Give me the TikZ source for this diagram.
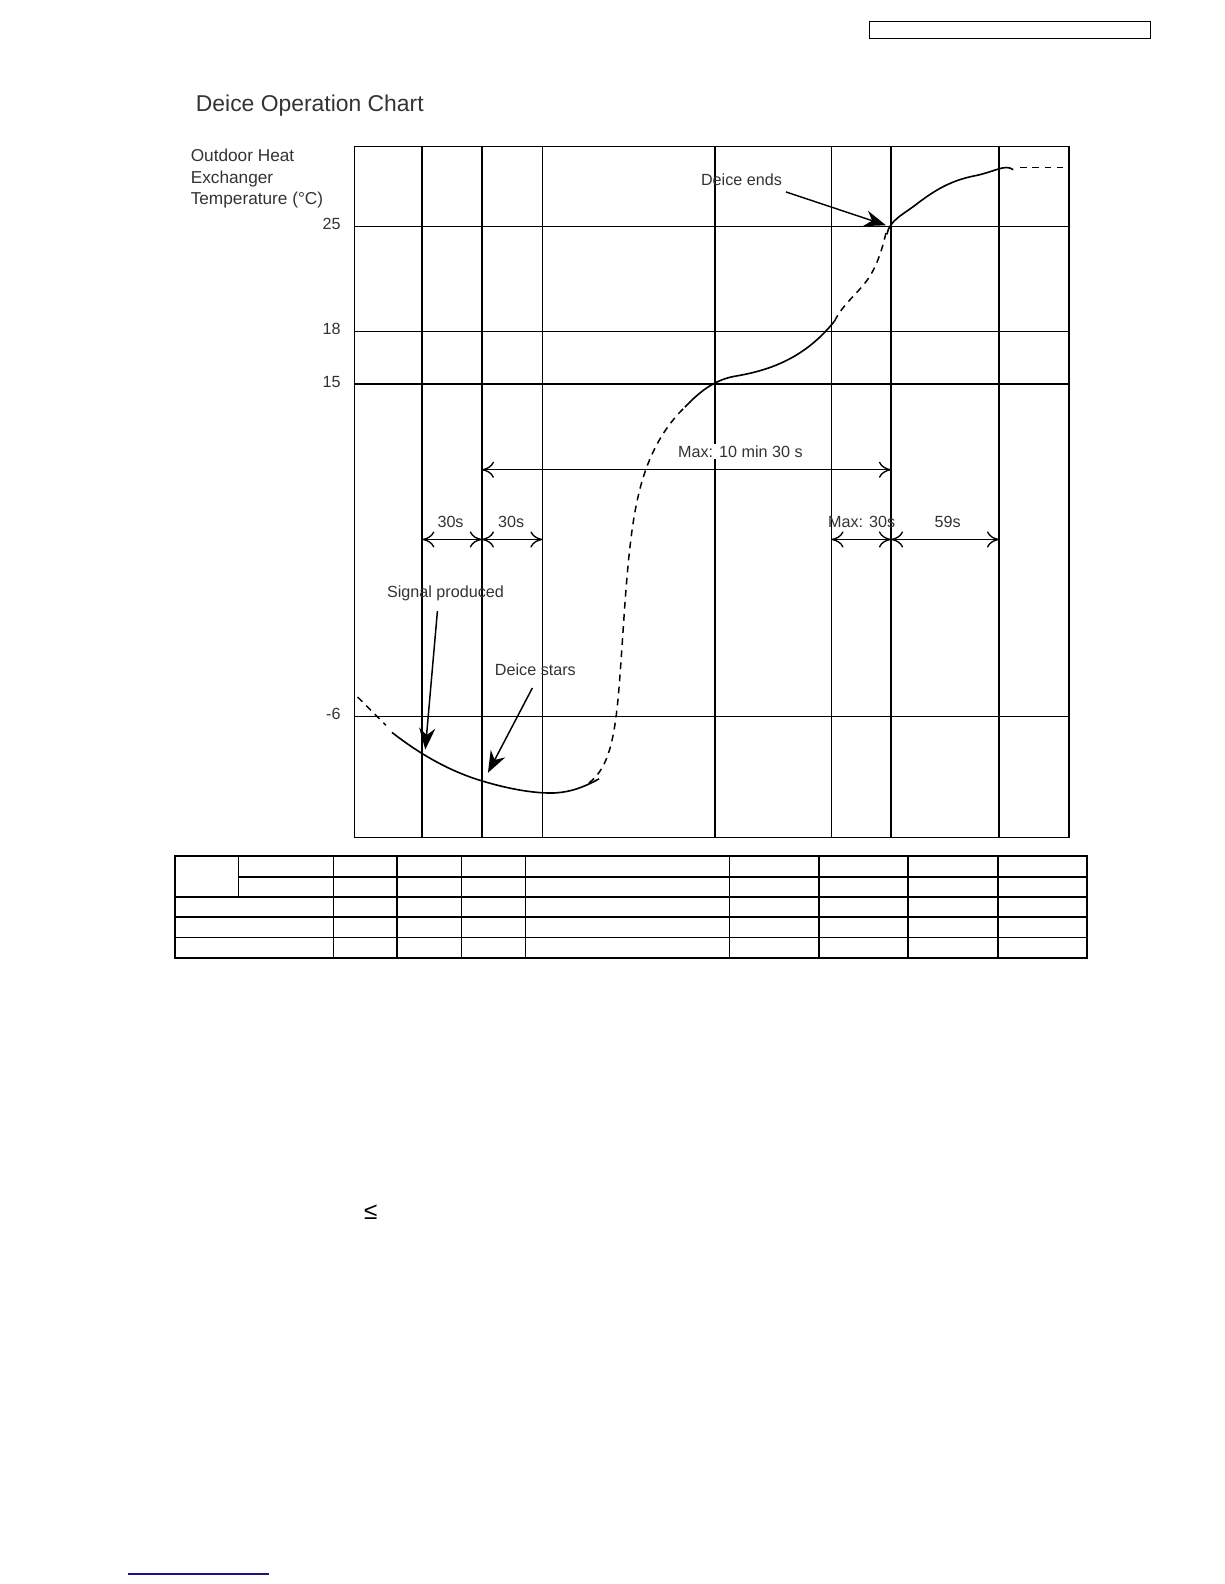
\documentclass[tikz,border=0pt]{standalone}
\usepackage{fontspec}
\setmainfont{Liberation Sans}
\usetikzlibrary{arrows.meta}
\tikzset{every picture/.style={line width=0.75pt}}
\tikzset{
	label text/.style={font=\fontsize{12}{13}\selectfont, text=black!80, inner sep=1pt},
	grid line/.style={line width=1.3pt},
	dim arrow/.style={{To[length=9pt,width=12pt]}-{To[length=9pt,width=12pt]}, line width=1pt},
	call arrow/.style={-{Stealth[length=16pt,width=12pt]}, line width=1.1pt},
	curve dash/.style={dashed, dash pattern=on 5pt off 4pt, line width=1.1pt}}

\begin{document}
\begin{tikzpicture}[x=0.75pt,y=0.75pt,yscale=-1,xscale=1]
	\useasboundingbox (0,0) rectangle (1212,1568);

	%Shape: top box
	\draw [line width=0.9pt] (861,21) rectangle (1139,38);
	% Text Node
	\node (title) [anchor=west, font=\fontsize{17}{18}\selectfont, text=black!80] at (189,105) {Deice Operation Chart};
	% Text Node
	\node (ylabel) [anchor=north west, align=left, label text, font=\fontsize{12.8}{15.8}\selectfont] at (187,146) {Outdoor Heat\\Exchanger\\Temperature (\textdegree C)};

	%Shape: chart frame and grid
	\draw [grid line] (351,145) rectangle (1058,829);
	\foreach \gx in {418,477,537,708,823,882,989} {
		\draw [grid line] (\gx,145) -- (\gx,829);}
	\foreach \gy/\gt in {224/25,328/18,380/15,709/-6} {
		\draw [line width=1pt] (351,\gy) -- (1058,\gy);
		\node [label text, anchor=east] at (339,\gy-2) {\gt};}

	% Curve
	\draw [curve dash] (354,690) -- (382,718);
	\draw [line width=1.2pt] (388,725) .. controls (420,750) and (450,765) .. (477,773) .. controls (500,780) and (525,785) .. (545,785) .. controls (565,785) and (580,778) .. (593,771);
	\draw [curve dash] (583,775) .. controls (603,760) and (608,730) .. (612,690) .. controls (618,620) and (620,540) .. (632,490) .. controls (640,455) and (655,425) .. (678,403);
	\draw [line width=1.2pt] (678,403) .. controls (695,385) and (710,375) .. (730,372) .. controls (770,365) and (800,350) .. (826,318);
	\draw [curve dash] (826,318) .. controls (835,300) and (850,290) .. (860,275) .. controls (870,260) and (875,240) .. (878,226);
	\draw [line width=1.2pt] (878,232) .. controls (880,218) and (895,212) .. (910,200) .. controls (930,185) and (945,178) .. (965,174) .. controls (985,170) and (995,162) .. (1003,168);
	\draw [curve dash] (1010,166) -- (1056,166);

	% Callouts
	\node (sig) [label text] at (441,587) {Signal produced};
	\coordinate (sigend) at (421,742);
	\draw [call arrow] (433,605) -- (sigend);
	\node (stars) [label text] at (530,663) {Deice stars};
	\coordinate (starsend) at (483,765);
	\draw [call arrow] (527,681) -- (starsend);
	\node (ends) [label text] at (734,178) {Deice ends};
	\coordinate (endsend) at (877,223);
	\draw [call arrow] (778,190) -- (endsend);

	% Dimensions
	\draw [dim arrow] (477,465) -- (882,465);
	\node (maxlong) [label text, fill=white] at (733,447) {Max: 10 min 30 s};
	\draw [dim arrow] (418,534) -- (477,534);
	\node (ta) [label text, fill=white] at (446,517) {30s};
	\draw [dim arrow] (477,534) -- (537,534);
	\node (tb) [label text, fill=white] at (506,517) {30s};
	\draw [dim arrow] (823,534) -- (882,534);
	\node (tc) [label text] at (853,517) {Max: 30s};
	\draw [dim arrow] (882,534) -- (989,534);
	\node (td) [label text, fill=white] at (938,517) {59s};

	%Shape: table
	\draw [line width=1.4pt] (173,847) rectangle (1076,948);
	\draw [line width=1.2pt] (236,868) -- (1076,868);
	\foreach \ty in {888,908,928} {
		\draw [line width=1.2pt] (173,\ty) -- (1076,\ty);}
	\draw [line width=1.2pt] (236,847) -- (236,888);
	\foreach \tx in {330,393,457,520,722,811,899,988} {
		\draw [line width=1.2pt] (\tx,847) -- (\tx,948);}

	% Text Node
	\node (leq) [font=\fontsize{18}{19}\selectfont] at (367,1200) {≤};
	%Shape: footer line
	\draw [line width=1pt, color={rgb, 255:red, 20; green, 20; blue, 130}] (127,1558) -- (266,1558);
\end{tikzpicture}
\end{document}
